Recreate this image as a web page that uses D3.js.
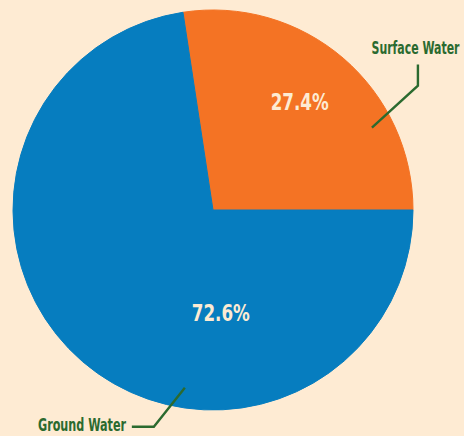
<!DOCTYPE html>
<html>
<head>
<meta charset="utf-8">
<script src="https://cdn.jsdelivr.net/npm/d3@7"></script>
<style>
  body { margin: 0; background: #feebd3; }
  svg { display: block; }
</style>
</head>
<body>
<script>
// data
let sources = ["Surface Water", "Ground Water"];
let shares = [27.4, 72.6];
let colors = ["#f47324", "#067dbf"];

let width = 464, height = 436;
let cx = 213, cy = 210, radius = 200;
let font = "'DejaVu Sans Condensed', 'DejaVu Sans', sans-serif";

let svg = d3.select("body").append("svg")
    .attr("width", width)
    .attr("height", height);

let g = svg.append("g")
    .attr("transform", `translate(${cx},${cy})`);

let data = sources.map((s, i) => ({ name: s, value: shares[i], color: colors[i] }));

// orange slice ends at 3 o'clock, going clockwise
let orangeAngle = shares[0] / d3.sum(shares) * 2 * Math.PI;
let pie = d3.pie()
    .value(d => d.value)
    .sort(null)
    .startAngle(Math.PI / 2 - orangeAngle)
    .endAngle(Math.PI / 2 - orangeAngle + 2 * Math.PI);

let arc = d3.arc().innerRadius(0).outerRadius(radius);

let arcs = pie(data);

g.selectAll("path.slice")
    .data(arcs)
    .join("path")
    .attr("class", "slice")
    .attr("d", arc)
    .attr("fill", d => d.data.color)
    .attr("stroke", d => d.data.color)
    .attr("stroke-width", 1);

// percent labels (angle from 12 o'clock, distance from centre)
let pctPos = [
    { a: (arcs[0].startAngle + arcs[0].endAngle) / 2, r: 130, dx: 2 },
    { a: Math.PI * 176 / 180, r: 112, dx: 0 }
];

g.selectAll("text.pct")
    .data(arcs)
    .join("text")
    .attr("class", "pct")
    .attr("x", (d, i) => pctPos[i].r * Math.sin(pctPos[i].a) + pctPos[i].dx)
    .attr("y", (d, i) => -pctPos[i].r * Math.cos(pctPos[i].a) - 1)
    .attr("text-anchor", "middle")
    .attr("fill", "#fdebd3")
    .attr("textLength", 58)
    .attr("lengthAdjust", "spacingAndGlyphs")
    .style("font-family", font)
    .style("font-weight", "bold")
    .style("font-size", "23px")
    .text(d => d.data.value.toFixed(1) + "%");

// leader lines and names
let green = "#2b6a2f";
let leaders = [
    { a: Math.PI * 62.6 / 180, r: 179, pts: [[46, -42], [46, -63]], tx: 415.5, ty: 54, len: 88 },
    { a: Math.PI * 189 / 180, r: 180, pts: [[-31, 39], [-53, 39]], tx: 82, ty: 431, len: 88 }
];

leaders.forEach(l => {
    let x0 = l.r * Math.sin(l.a);
    let y0 = -l.r * Math.cos(l.a);
    let line = [[x0, y0]].concat(l.pts.map(p => [x0 + p[0], y0 + p[1]]));
    g.append("path")
        .attr("d", d3.line()(line))
        .attr("fill", "none")
        .attr("stroke", green)
        .attr("stroke-width", 2.4);
});

svg.selectAll("text.name")
    .data(sources)
    .join("text")
    .attr("class", "name")
    .attr("x", (d, i) => leaders[i].tx)
    .attr("y", (d, i) => leaders[i].ty)
    .attr("text-anchor", "middle")
    .attr("fill", green)
    .attr("textLength", (d, i) => leaders[i].len)
    .attr("lengthAdjust", "spacingAndGlyphs")
    .style("font-family", font)
    .style("font-weight", "bold")
    .style("font-size", "17.5px")
    .text(d => d);
</script>
</body>
</html>
